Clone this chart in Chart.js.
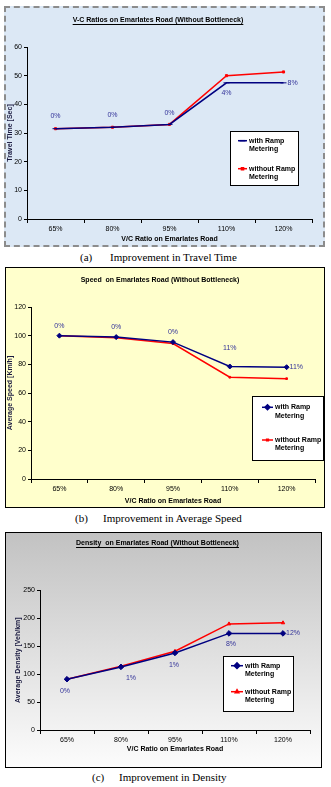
<!DOCTYPE html>
<html lang="en">
<head>
  <meta charset="UTF-8">
  <title>Emarlates Road - Ramp Metering</title>
  <script src="https://cdn.jsdelivr.net/npm/chart.js@4"></script>
  <style>
    body { margin: 0; background: #fff; }
    #page { position: relative; width: 331px; height: 787px; overflow: hidden; }
    .box { position: absolute; box-sizing: border-box; }
    #box1 { left: 4px; top: 6px; width: 321px; height: 241px; border: 2px dashed #8c8c8c; background: #dce8f5; }
    #box2 { left: 5px; top: 267px; width: 320px; height: 241px; border: 1px solid #000; background: #ffffcc; }
    #box3 { left: 5px; top: 532px; width: 317px; height: 236px; border: 1px solid #000; background: linear-gradient(#c2c2c2, #fcfcfc); }
    canvas { position: absolute; }
    #c1 { left: 4px; top: 6px; }
    #c2 { left: 5px; top: 267px; }
    #c3 { left: 5px; top: 532px; }
    .cap { position: absolute; font-family: "Liberation Serif", serif; font-size: 11px; line-height: 14px; white-space: nowrap; color: #000; }
  </style>
</head>
<body>
  <div id="page">
    <div class="box" id="box1"></div>
    <div class="box" id="box2"></div>
    <div class="box" id="box3"></div>
    <canvas id="c1" width="321" height="241"></canvas>
    <canvas id="c2" width="320" height="241"></canvas>
    <canvas id="c3" width="317" height="236"></canvas>

    <span class="cap" style="left:80px; top:250px;">(a)</span>
    <span class="cap" style="left:110px; top:250px;">Improvement in Travel Time</span>
    <span class="cap" style="left:75px; top:511px;">(b)</span>
    <span class="cap" style="left:103px; top:511px;">Improvement in Average Speed</span>
    <span class="cap" style="left:92px; top:770px;">(c)</span>
    <span class="cap" style="left:119px; top:770px;">Improvement in Density</span>
  </div>

  <script>
    const vcRatios = ['65%', '80%', '95%', '110%', '120%'];
    const seriesNames = ['with Ramp Metering', 'without Ramp Metering'];

    // travel time [sec]
    const travelWith = [31.5, 32, 33, 47.5, 47.5];
    const travelWithout = [31.5, 32, 33, 50, 51.3];
    const travelPct = ['0%', '0%', '0%', '4%', '8%'];

    // average speed [km/h]
    const speedWith = [100, 99, 95.5, 78.5, 78];
    const speedWithout = [100, 98.5, 94.5, 71, 70];
    const speedPct = ['0%', '0%', '0%', '11%', '11%'];

    // average density [veh/km]
    const densWith = [91, 113, 138, 173, 173];
    const densWithout = [91, 114, 141, 190, 192];
    const densPct = ['0%', '1%', '1%', '8%', '12%'];

    const FONT = '"Liberation Sans", Arial, sans-serif';
    const BLUE = '#000080';
    const RED = '#ff0000';

    function marker(ctx, style, r, x, y, color) {
      ctx.fillStyle = color;
      ctx.strokeStyle = color;
      if (Chart.helpers && Chart.helpers.drawPoint) {
        Chart.helpers.drawPoint(ctx, { pointStyle: style, radius: r, rotation: 0, borderWidth: 1 }, x, y);
      } else {
        ctx.fillRect(x - r, y - r, r * 2, r * 2);
      }
    }

    // underline under the chart title (Excel style)
    const underlineTitle = {
      id: 'underlineTitle',
      afterDraw(chart, args, opts) {
        if (!opts.on) return;
        const t = chart.titleBlock;
        const ctx = chart.ctx;
        ctx.save();
        ctx.font = 'bold 7px ' + FONT;
        const w = ctx.measureText(chart.options.plugins.title.text).width;
        const cx = (t.left + t.right) / 2;
        const y = Math.round(t.top + t.options.padding.top + 8) + 0.5;
        ctx.strokeStyle = '#000';
        ctx.lineWidth = 1;
        ctx.beginPath();
        ctx.moveTo(cx - w / 2, y);
        ctx.lineTo(cx + w / 2, y);
        ctx.stroke();
        ctx.restore();
      }
    };

    // improvement % next to the "with" series
    const pctLabels = {
      id: 'pctLabels',
      afterDatasetsDraw(chart, args, opts) {
        const meta = chart.getDatasetMeta(0);
        const ctx = chart.ctx;
        ctx.save();
        ctx.font = '7px ' + FONT;
        ctx.fillStyle = '#333399';
        ctx.textBaseline = 'middle';
        opts.labels.forEach((txt, i) => {
          const p = meta.data[i];
          const o = opts.offsets[i];
          ctx.textAlign = o[2] || 'center';
          ctx.fillText(txt, p.x + o[0], p.y + o[1]);
        });
        ctx.restore();
      }
    };

    // white legend box inside the plot
    const boxLegend = {
      id: 'boxLegend',
      afterDraw(chart, args, o) {
        const ctx = chart.ctx;
        ctx.save();
        ctx.fillStyle = '#fff';
        ctx.fillRect(o.x, o.y, o.w, o.h);
        ctx.strokeStyle = '#000';
        ctx.lineWidth = 1;
        ctx.strokeRect(o.x + 0.5, o.y + 0.5, o.w, o.h);
        chart.data.datasets.forEach((ds, i) => {
          const y = o.rows[i];
          ctx.strokeStyle = ds.borderColor;
          ctx.lineWidth = 1.5;
          ctx.beginPath();
          ctx.moveTo(o.lx0, y);
          ctx.lineTo(o.lx1, y);
          ctx.stroke();
          marker(ctx, ds.pointStyle, ds.pointRadius, (o.lx0 + o.lx1) / 2, y, ds.borderColor);
          const words = ds.label.split(' ');
          ctx.fillStyle = '#000';
          ctx.font = 'bold 7px ' + FONT;
          ctx.textAlign = 'left';
          ctx.textBaseline = 'middle';
          ctx.fillText(words.slice(0, -1).join(' '), o.lx1 + 2, y);
          ctx.fillText(words[words.length - 1], o.lx1 + 2, y + 8.3);
        });
        ctx.restore();
      }
    };

    function buildChart(id, c) {
      return new Chart(document.getElementById(id), {
        type: 'line',
        data: {
          labels: vcRatios,
          datasets: [
            {
              label: seriesNames[0], data: c.withData,
              borderColor: BLUE, backgroundColor: BLUE, borderWidth: 1.5,
              pointStyle: c.styles[0], pointRadius: c.radii[0], pointBorderWidth: 1,
              tension: 0
            },
            {
              label: seriesNames[1], data: c.withoutData,
              borderColor: RED, backgroundColor: RED, borderWidth: 1.5,
              pointStyle: c.styles[1], pointRadius: c.radii[1], pointBorderWidth: 1,
              tension: 0
            }
          ]
        },
        options: {
          responsive: false,
          animation: false,
          layout: { padding: { left: 0, right: c.padRight, top: 0, bottom: c.padBottom } },
          plugins: {
            legend: { display: false },
            tooltip: { enabled: false },
            title: {
              display: true, text: c.title, color: '#000',
              font: { family: FONT, size: 7, weight: 'bold' },
              padding: { top: c.titleTop, bottom: c.titleBottom }
            },
            underlineTitle: { on: c.underline },
            pctLabels: { labels: c.pct, offsets: c.pctOffsets },
            boxLegend: c.legend
          },
          scales: {
            x: {
              offset: true,
              border: { color: '#000', width: 1 },
              grid: { display: true, drawOnChartArea: false, drawTicks: true, tickLength: 4, offset: true, color: '#000' },
              ticks: { color: '#000', font: { family: FONT, size: 7 }, padding: 2, maxRotation: 0 },
              title: { display: true, text: 'V/C Ratio on Emarlates Road', color: '#000', font: { family: FONT, size: 7, weight: 'bold' }, padding: { top: 0, bottom: c.xTitlePad } },
              afterFit(scale) { scale.height = c.xHeight; }
            },
            y: {
              min: 0, max: c.yMax,
              border: { color: '#000', width: 1 },
              grid: { display: true, drawOnChartArea: false, drawTicks: true, tickLength: 3, color: '#000' },
              ticks: { stepSize: c.yStep, color: '#000', font: { family: FONT, size: 7 }, padding: 2 },
              title: { display: true, text: c.yTitle, color: '#1a1a40', font: { family: FONT, size: 7, weight: 'bold' }, padding: { top: c.yTitlePad, bottom: 0 } },
              afterFit(scale) { scale.width = c.yWidth; }
            }
          }
        },
        plugins: [underlineTitle, pctLabels, boxLegend]
      });
    }

    buildChart('c1', {
      title: 'V-C Ratios on Emarlates Road (Without Bottleneck)', underline: true,
      withData: travelWith, withoutData: travelWithout, pct: travelPct,
      pctOffsets: [[0, -13], [0, -12], [0, -11], [0, 10], [4, 0, 'left']],
      styles: ['line', 'rect'], radii: [3, 1.5],
      yMax: 60, yStep: 10, yTitle: 'Travel Time [Sec]', yTitlePad: 2, yWidth: 23,
      xHeight: 28, xTitlePad: 4, padRight: 13, padBottom: 0,
      titleTop: 10, titleBottom: 22.6,
      legend: { x: 226, y: 125, w: 68, h: 54, lx0: 234, lx1: 243, rows: [134.7, 162.7] }
    });

    buildChart('c2', {
      title: 'Speed  on Emarlates Road (Without Bottleneck)', underline: false,
      withData: speedWith, withoutData: speedWithout, pct: speedPct,
      pctOffsets: [[0, -10], [0, -10], [0, -10], [0, -18], [3, 0, 'left']],
      styles: ['rectRot', 'rect'], radii: [2.5, 1.2],
      yMax: 120, yStep: 20, yTitle: 'Average Speed [Km/h]', yTitlePad: 1, yWidth: 26,
      xHeight: 29, xTitlePad: 3, padRight: 10, padBottom: 0,
      titleTop: 9, titleBottom: 22.6,
      legend: { x: 247, y: 129, w: 71, h: 64, lx0: 257, lx1: 268, rows: [140.3, 173] }
    });

    buildChart('c3', {
      title: 'Density  on Emarlates Road (Without Bottleneck)', underline: true,
      withData: densWith, withoutData: densWithout, pct: densPct,
      pctOffsets: [[-2, 12], [10, 11], [-1, 12], [2, 11], [3, 0, 'left']],
      styles: ['rectRot', 'triangle'], radii: [2.8, 2],
      yMax: 250, yStep: 50, yTitle: 'Average Density [Veh/km]', yTitlePad: 9, yWidth: 35,
      xHeight: 26, xTitlePad: 3, padRight: 12, padBottom: 12,
      titleTop: 7, titleBottom: 43,
      legend: { x: 218, y: 124, w: 70, h: 55, lx0: 226, lx1: 238, rows: [133.7, 159.7] }
    });
  </script>
</body>
</html>
